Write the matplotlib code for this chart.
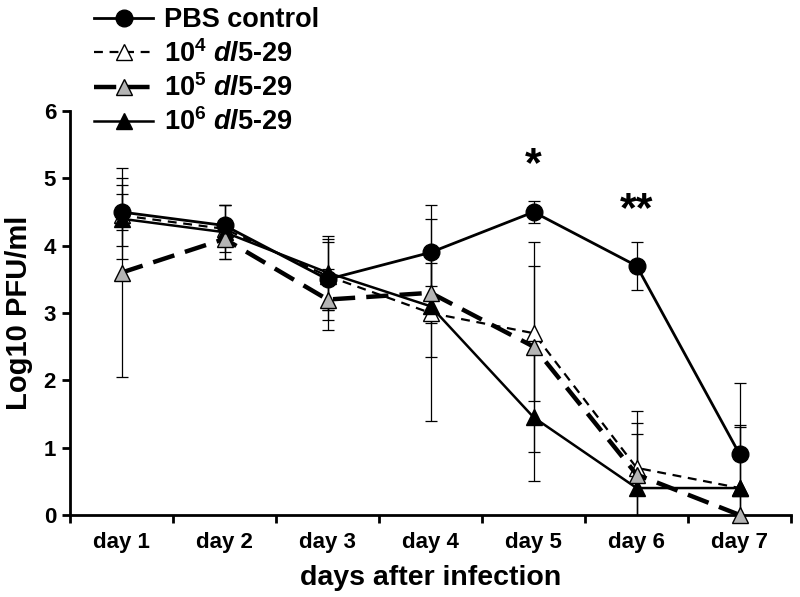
import matplotlib
matplotlib.use("Agg")
import matplotlib.pyplot as plt
import numpy as np

plt.rcParams['font.family'] = ['Liberation Sans', 'DejaVu Sans']
plt.rcParams['font.weight'] = 'bold'
plt.rcParams['mathtext.fontset'] = 'custom'
plt.rcParams['mathtext.rm'] = 'Liberation Sans:bold'
plt.rcParams['mathtext.it'] = 'Liberation Sans:italic:bold'
plt.rcParams['mathtext.bf'] = 'Liberation Sans:bold'

days = ["day 1", "day 2", "day 3", "day 4", "day 5", "day 6", "day 7"]

pbs = [4.5, 4.3, 3.5, 3.9, 4.5, 3.7, 0.9]
pbs_err = [0.27, 0.30, 0.60, 0.50, 0.17, 0.36, 1.06]

d4 = [4.45, 4.25, 3.55, 3.0, 2.7, 0.7, 0.4]
d4_err = [0.45, 0.35, 0.50, 1.60, 1.00, 0.84, 0.90]

d5 = [3.6, 4.1, 3.2, 3.3, 2.5, 0.6, 0.0]
d5_err = [1.55, 0.30, 0.45, 0.45, 1.56, 0.77, 0.0]

d6 = [4.4, 4.2, 3.6, 3.1, 1.45, 0.4, 0.4]
d6_err = [0.60, 0.40, 0.55, 0.75, 0.95, 0.80, 0.93]

labels = ["PBS control", r"10$^4$ $dl$5-29", r"10$^5$ $dl$5-29", r"10$^6$ $dl$5-29"]

fig = plt.figure(figsize=(8.0, 5.97), dpi=100)
ax = fig.add_axes([0.0875, 0.1374, 0.9015, 0.6766])
x = np.arange(len(days))

series = [
    (pbs, pbs_err, dict(color='black', lw=2.0, ls='-', marker='o', ms=12, mfc='black', mec='black'), 5),
    (d4, d4_err, dict(color='black', lw=1.6, ls=(0, (4, 3)), marker='^', ms=11, mfc='white', mec='black', mew=1.0), 3),
    (d5, d5_err, dict(color='black', lw=3.2, ls=(0, (5, 2.5)), marker='^', ms=11, mfc='#b4b4b4', mec='black', mew=1.0), 4),
    (d6, d6_err, dict(color='black', lw=1.8, ls='-', marker='^', ms=11, mfc='black', mec='black'), 3),
]
for (vals, errs, style, z), lab in zip(series, labels):
    ax.errorbar(x, vals, yerr=errs, fmt='none', ecolor='black', elinewidth=0.9,
                capsize=4.5, capthick=0.9, zorder=2)
for (vals, errs, style, z), lab in zip(series, labels):
    ax.plot(x, vals, label=lab, zorder=z, clip_on=False, **style)

ax.text(4, 5.2, "*", ha='center', va='center', fontsize=31, fontweight='bold')
ax.text(5, 4.53, "**", ha='center', va='center', fontsize=31, fontweight='bold')

ax.set_xlim(-0.5, 6.5)
ax.set_ylim(0, 6)
ax.set_xticks(x)
ax.set_xticklabels(days, fontsize=16, fontweight='bold')
ax.set_xticks(np.arange(-0.5, 7.0, 1.0), minor=True)
ax.tick_params(axis='x', which='major', length=0, pad=12)
ax.tick_params(axis='x', which='minor', length=6, width=2, direction='out')
ax.set_yticks(range(7))
ax.set_yticklabels([str(i) for i in range(7)], fontsize=16, fontweight='bold')
ax.tick_params(axis='y', length=6, width=2, direction='out', pad=4)
for s in ['top', 'right']:
    ax.spines[s].set_visible(False)
for s in ['left', 'bottom']:
    ax.spines[s].set_linewidth(2)

ax.set_xlabel("days after infection", fontsize=20.5, fontweight='bold', labelpad=9)
ax.set_ylabel("Log10 PFU/ml", fontsize=21, fontweight='bold', labelpad=8)

leg = fig.legend(loc='upper left', bbox_to_anchor=(0.114, 0.992), frameon=False,
                 fontsize=19.5, handlelength=2.2, handletextpad=0.38, labelspacing=0.24,
                 borderaxespad=0.0, borderpad=0.1)
for t in leg.get_texts():
    t.set_fontweight('bold')

fig.savefig("out.png", dpi=100)
